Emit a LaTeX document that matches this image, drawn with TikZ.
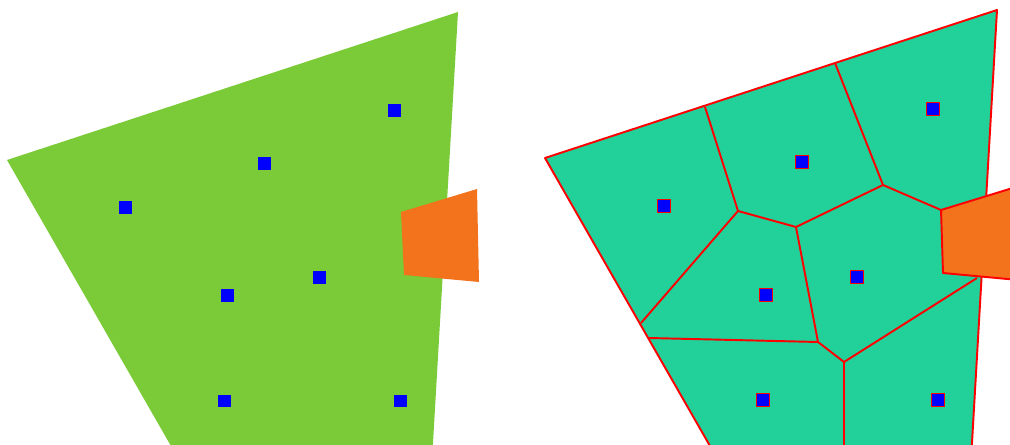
\documentclass[tikz,border=0pt]{standalone}
\usepackage{xcolor}
\usepackage{tikz}
\usetikzlibrary{positioning}
\definecolor{fieldgreen}{RGB}{122, 203, 55}
\definecolor{cellteal}{RGB}{34, 209, 154}
\definecolor{obstorange}{RGB}{243, 115, 28}
\tikzstyle{site} = [rectangle, fill=blue, minimum size=0.26cm, inner sep=0pt]
\tikzstyle{redsite} = [rectangle, fill=blue, draw=red, minimum size=0.25cm, inner sep=0pt, line width=0.7pt]
\tikzstyle{edge} = [draw=red, line width=1.1pt, line join=round]

\begin{document}
\begin{tikzpicture}[x=0.02cm, y=-0.02cm]
    \useasboundingbox (0,0) rectangle (1010,445);
    \clip (0,0) rectangle (1010,445);

    % Left: field with obstacle and sites
    \fill[fieldgreen] (7,160) -- (458,12) -- (432,460) -- (179,460) -- cycle;
    \fill[obstorange] (401,212) -- (477,189) -- (479,282) -- (404,275) -- cycle;

    \node[site] (s1) at (394,111) {};
    \node[site] (s2) at (264,164) {};
    \node[site] (s3) at (125,208) {};
    \node[site] (s4) at (319,278) {};
    \node[site] (s5) at (227,296) {};
    \node[site] (s6) at (224,401) {};
    \node[site] (s7) at (400,401) {};

    % Right: Voronoi cells
    \fill[cellteal, edge] (545,158) -- (997,10) -- (971,460) -- (718,460) -- cycle;

    \coordinate (va) at (705,107);
    \coordinate (vb) at (835,63);
    \coordinate (vc) at (738,211);
    \coordinate (vd) at (796,227);
    \coordinate (ve) at (883,185);
    \coordinate (vf) at (941,210);
    \coordinate (vg) at (641,323);
    \coordinate (vh) at (649,338);
    \coordinate (vi) at (818,342);
    \coordinate (vj) at (844,362);
    \coordinate (vk) at (977,278);
    \coordinate (vl) at (844,460);

    \draw[edge] (va) -- (vc) -- (vd) -- (ve) -- (vb);
    \draw[edge] (ve) -- (vf);
    \draw[edge] (vc) -- (vg);
    \draw[edge] (vd) -- (vi);
    \draw[edge] (vh) -- (vi) -- (vj) -- (vk);
    \draw[edge] (vj) -- (vl);

    \fill[obstorange, edge] (941,210) -- (1016,187) -- (1018,280) -- (943,273) -- cycle;

    \node[redsite] (t1) at (933,109) {};
    \node[redsite] (t2) at (802,162) {};
    \node[redsite] (t3) at (664,206) {};
    \node[redsite] (t4) at (857,277) {};
    \node[redsite] (t5) at (766,295) {};
    \node[redsite] (t6) at (763,400) {};
    \node[redsite] (t7) at (938,400) {};
\end{tikzpicture}
\end{document}
